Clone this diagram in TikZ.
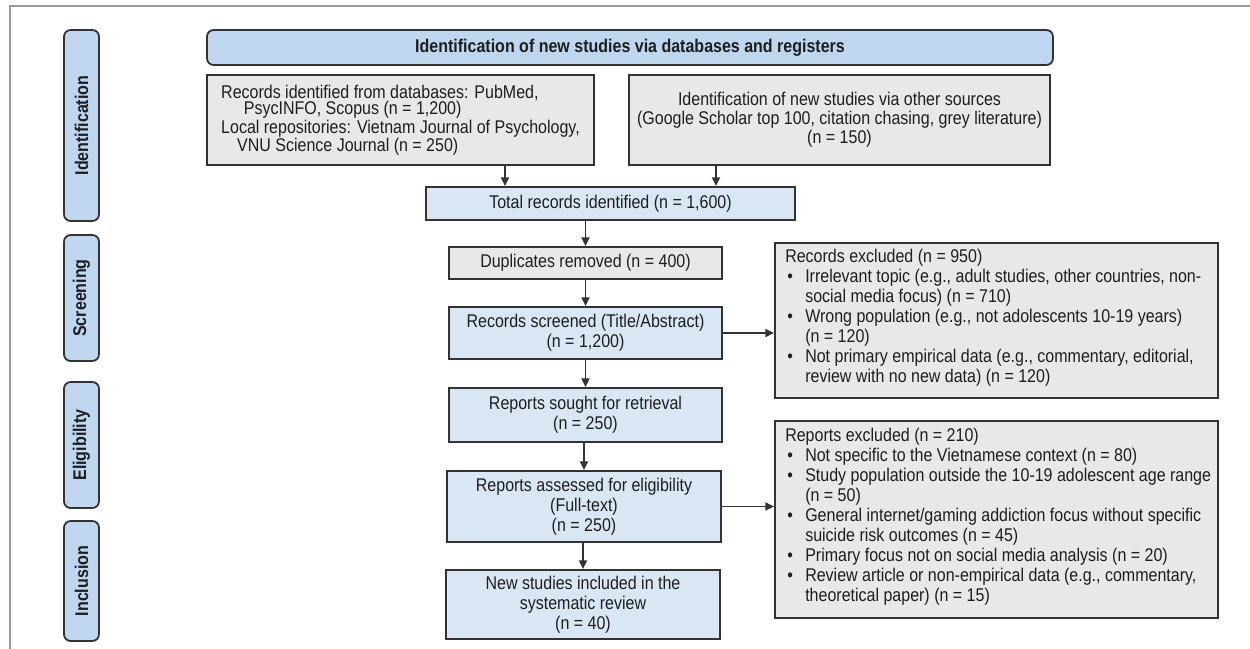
\documentclass[tikz,border=0pt]{standalone}
\usepackage{fontspec}
\setmainfont{Liberation Sans}[FakeStretch=0.87]
\usetikzlibrary{arrows.meta}
\definecolor{hdrblue}{HTML}{BED7EE}
\definecolor{boxblue}{HTML}{D9E7F4}
\definecolor{boxgray}{HTML}{E8E8E8}
\definecolor{edge}{HTML}{333333}
\definecolor{txt}{HTML}{1E1E1E}
\definecolor{frame}{HTML}{9A9A9A}
\newcommand{\fs}{\fontsize{13.8}{15}\selectfont}
\tikzset{
  base/.style={draw=edge, line width=1.35pt, text=txt, inner sep=0pt, font=\fs},
  hdr/.style={base, fill=hdrblue, rounded corners=5pt, font=\fs\bfseries},
  phase/.style={base, fill=hdrblue, rounded corners=5pt, rotate=90, minimum height=35*0.75pt, font=\fs\bfseries},
  bluebox/.style={base, fill=boxblue, align=center},
  graybox/.style={base, fill=boxgray, align=center},
  exbox/.style={base, fill=boxgray, anchor=north west},
  extext/.style={anchor=north west, inner sep=0pt, align=left, text=txt, font=\fs},
  arr/.style={draw=edge, line width=1.35pt, -{Triangle[length=6.5pt,width=6pt]}},
}
\newcommand{\bul}{\makebox[15pt][l]{\hspace{1.5pt}•}}
\newcommand{\ind}{\hspace*{15pt}}
\begin{document}
\begin{tikzpicture}[x=0.75pt,y=-0.75pt]
\useasboundingbox (0,0) rectangle (1250,649);
% frame
\draw[frame, line width=1.1pt] (10,649) -- (10,6) -- (1250,6);
% phases
\node[phase, minimum width=191*0.75pt] (pid) at (81.5,125.5) {Identification};
\node[phase, minimum width=126*0.75pt] (psc) at (81.5,298) {Screening};
\node[phase, minimum width=126*0.75pt] (pel) at (81.5,445) {Eligibility};
\node[phase, minimum width=120*0.75pt] (pin) at (81.5,581) {Inclusion};
% header
\node[hdr, minimum width=846*0.75pt, minimum height=35*0.75pt] (hdr) at (630,47.5) {Identification of new studies via databases and registers};
% identification boxes
\node[graybox, align=left, minimum width=387*0.75pt, minimum height=90*0.75pt, font=\fontsize{13.8}{12.4}\selectfont] (rec) at (400.5,120)
  {Records identified from databases: PubMed,\\ \hspace*{17pt}PsycINFO, Scopus (n = 1,200)\\Local repositories: Vietnam Journal of Psychology,\\ \hspace*{12pt}VNU Science Journal (n = 250)};
\node[graybox, minimum width=421*0.75pt, minimum height=90*0.75pt, font=\fontsize{13.8}{14.3}\selectfont] (oth) at (839.5,120)
  {Identification of new studies via other sources\\(Google Scholar top 100, citation chasing, grey literature)\\(n = 150)};
\node[bluebox, minimum width=369*0.75pt, minimum height=33*0.75pt] (tot) at (610.5,203.5) {Total records identified (n = 1,600)};
% main column
\node[graybox, minimum width=273*0.75pt, minimum height=32*0.75pt] (dup) at (585.5,263) {Duplicates removed (n = 400)};
\node[bluebox, minimum width=273*0.75pt, minimum height=52*0.75pt] (scr) at (585.5,333) {Records screened (Title/Abstract)\\(n = 1,200)};
\node[bluebox, minimum width=273*0.75pt, minimum height=54*0.75pt] (sou) at (585.5,415) {Reports sought for retrieval\\(n = 250)};
\node[bluebox, minimum width=274*0.75pt, minimum height=71*0.75pt] (ass) at (584,506.5) {Reports assessed for eligibility\\(Full-text)\\(n = 250)};
\node[bluebox, minimum width=274*0.75pt, minimum height=69*0.75pt] (inc) at (583,604.5) {New studies included in the\\systematic review\\(n = 40)};
% exclusion boxes
\node[exbox, minimum width=443*0.75pt, minimum height=155*0.75pt] (ex1) at (774,242) {};
\node[extext] (ex1t) at (785,249)
  {Records excluded (n = 950)\\
   \bul Irrelevant topic (e.g., adult studies, other countries, non-\\
   \ind social media focus) (n = 710)\\
   \bul Wrong population (e.g., not adolescents 10-19 years)\\
   \ind (n = 120)\\
   \bul Not primary empirical data (e.g., commentary, editorial,\\
   \ind review with no new data) (n = 120)};
\node[exbox, minimum width=443*0.75pt, minimum height=197*0.75pt] (ex2) at (774,420) {};
\node[extext] (ex2t) at (785,428)
  {Reports excluded (n = 210)\\
   \bul Not specific to the Vietnamese context (n = 80)\\
   \bul Study population outside the 10-19 adolescent age range\\
   \ind (n = 50)\\
   \bul General internet/gaming addiction focus without specific\\
   \ind suicide risk outcomes (n = 45)\\
   \bul Primary focus not on social media analysis (n = 20)\\
   \bul Review article or non-empirical data (e.g., commentary,\\
   \ind theoretical paper) (n = 15)};
% arrows
\coordinate (xa) at (505,0);
\coordinate (xb) at (716,0);
\draw[arr] (rec.south -| xa) -- (tot.north -| xa);
\draw[arr] (oth.south -| xb) -- (tot.north -| xb);
\draw[arr] (tot.south -| dup.north) -- (dup.north);
\draw[arr] (dup.south) -- (scr.north);
\draw[arr] (scr.south) -- (sou.north);
\draw[arr] (sou.south -| ass.north) -- (ass.north);
\draw[arr] (ass.south -| inc.north) -- (inc.north);
\draw[arr] (scr.east) -- (scr.east -| ex1.west);
\draw[arr] (ass.east) -- (ass.east -| ex2.west);
\end{tikzpicture}
\end{document}
